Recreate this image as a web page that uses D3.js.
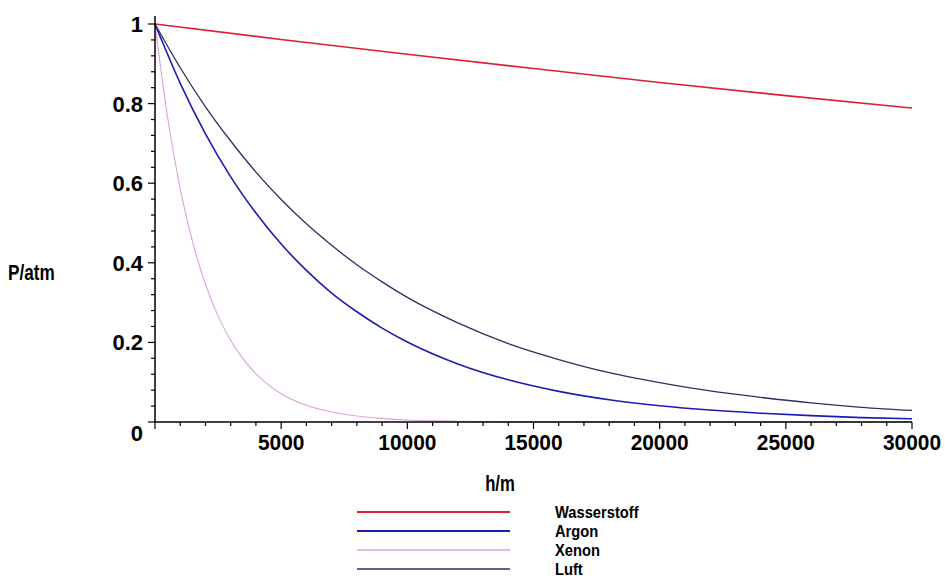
<!DOCTYPE html>
<html><head><meta charset="utf-8">
<script src="https://cdn.jsdelivr.net/npm/d3@7"></script>
<style>
html,body{margin:0;padding:0;background:#fff;}
text{font-family:"Liberation Sans",Arial,sans-serif;font-weight:bold;fill:#000;}
</style></head>
<body>
<svg id="c" width="945" height="579"></svg>
<script>
// ---- data ----
const seriesNames = ["Wasserstoff", "Argon", "Xenon", "Luft"];
const seriesColors = ["#dc1f36", "#1c1cb4", "#d9a3dc", "#2e2e62"];
const seriesWidths = [1.6, 1.6, 1.1, 1.3];

const hH = [0, 5000, 10000, 15000, 20000, 25000, 30000];
const pWasserstoff = [1, 0.961, 0.924, 0.888, 0.853, 0.820, 0.789];

const hGas = [0, 1000, 2000, 3000, 4000, 5000, 6000, 7000, 8000, 9000, 10000, 12000, 14000, 16000, 18000, 20000, 22000, 24000, 26000, 28000, 30000];
const pArgon = [1, 0.851, 0.724, 0.616, 0.525, 0.447, 0.381, 0.324, 0.277, 0.236, 0.201, 0.146, 0.106, 0.077, 0.056, 0.041, 0.030, 0.022, 0.016, 0.011, 0.008];
const pLuft  = [1, 0.890, 0.792, 0.706, 0.628, 0.559, 0.498, 0.444, 0.395, 0.352, 0.313, 0.249, 0.197, 0.157, 0.124, 0.099, 0.078, 0.062, 0.048, 0.037, 0.029];

const hXe = [0, 500, 1000, 1500, 2000, 2500, 3000, 3500, 4000, 5000, 6000, 7000, 8000, 9000, 10000, 11000, 12000, 14000, 30000];
const pXenon = [1, 0.765, 0.586, 0.450, 0.346, 0.266, 0.205, 0.158, 0.121, 0.071, 0.042, 0.025, 0.015, 0.009, 0.005, 0.003, 0.002, 0.001, 0];

const xTicks = [5000, 10000, 15000, 20000, 25000, 30000];
const yTicks = [0, 0.2, 0.4, 0.6, 0.8, 1];

// ---- drawing ----
const svg = d3.select("#c");
const x = d3.scaleLinear().domain([0, 30000]).range([155, 912]);
const y = d3.scaleLinear().domain([0, 1]).range([422, 24]);

const data = [
  {name: seriesNames[0], h: hH, p: pWasserstoff},
  {name: seriesNames[1], h: hGas, p: pArgon},
  {name: seriesNames[2], h: hXe, p: pXenon},
  {name: seriesNames[3], h: hGas, p: pLuft}
];

const line = d3.line().x(d => x(d[0])).y(d => y(d[1])).curve(d3.curveMonotoneX);
const drawOrder = [2, 3, 1, 0];
drawOrder.forEach(i => {
  const s = data[i];
  svg.append("path")
    .attr("d", line(s.h.map((h, j) => [h, s.p[j]])))
    .attr("fill", "none")
    .attr("stroke", seriesColors[i])
    .attr("stroke-width", seriesWidths[i]);
});

// axes
const ax = svg.append("g").attr("stroke", "#000").attr("stroke-width", 1.5);
ax.append("line").attr("x1", x(0)).attr("x2", x(30000)).attr("y1", y(0)).attr("y2", y(0));
ax.append("line").attr("x1", x(0)).attr("x2", x(0)).attr("y1", y(0)).attr("y2", y(1.02));

// x ticks
d3.range(0, 30001, 1000).forEach(v => {
  const major = v % 5000 === 0;
  ax.append("line").attr("x1", x(v)).attr("x2", x(v))
    .attr("y1", y(0)).attr("y2", y(0) + (major ? 7 : 4))
    .attr("stroke-width", 1.2);
});
// y ticks
d3.range(0, 26).map(k => k * 0.04).forEach(v => {
  const major = Math.abs(v * 5 - Math.round(v * 5)) < 1e-6;
  ax.append("line").attr("y1", y(v)).attr("y2", y(v))
    .attr("x1", x(0)).attr("x2", x(0) - (major ? 7 : 4))
    .attr("stroke-width", 1.2);
});

function label(txt, tx, ty, anchor, size, sx) {
  svg.append("text")
    .attr("transform", `translate(${tx},${ty}) scale(${sx},1)`)
    .attr("text-anchor", anchor)
    .attr("font-size", size)
    .text(txt);
}

xTicks.forEach(v => label(String(v), x(v), 450, "middle", 22, 0.95));
yTicks.forEach(v => label(String(v), 143, y(v) + 8 + (v === 0 ? 11 : 0), "end", 22, 1));

label("P/atm", 8, 280, "start", 22, 0.78);
label("h/m", 500, 491, "middle", 22, 0.76);

// legend
const legY = [512, 531, 550, 569];
seriesNames.forEach((n, i) => {
  svg.append("line").attr("x1", 357).attr("x2", 510)
    .attr("y1", legY[i]).attr("y2", legY[i])
    .attr("stroke", seriesColors[i]).attr("stroke-width", seriesWidths[i] + 0.2);
  label(n, 555, legY[i] + 6, "start", 16, 0.92);
});
</script>
</body></html>
